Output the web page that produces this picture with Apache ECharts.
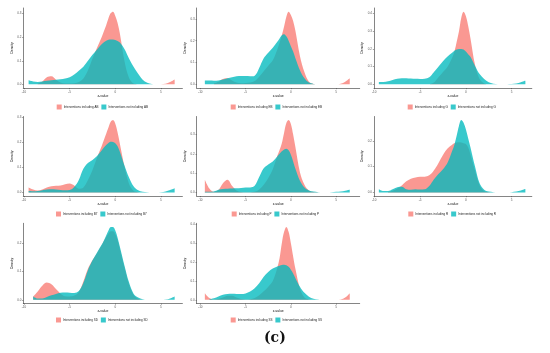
<!DOCTYPE html>
<html><head><meta charset="utf-8">
<script src="https://cdn.jsdelivr.net/npm/echarts@6/dist/echarts.min.js"></script>
<style>html,body{margin:0;padding:0;background:#fff}#c{width:550px;height:353px}</style>
</head><body><div id="c"></div>
<script>
// z-value sample points (shared by all panels)
const xs = [-9.5,-9,-8.5,-8,-7.5,-7,-6.5,-6,-5.5,-5,-4.5,-4,-3.5,-3,-2.5,-2,-1.5,-1.25,-1,-0.75,-0.5,-0.25,0,0.25,0.5,1,1.5,2,2.5,3,3.5,4,4.5,5,5.5,6,6.5];
const xTicks = [-10,-5,0,5];

// densities (null = outside that group's range)
const abIn  = [null,null,0.003,0.012,0.03,0.034,0.02,0.008,0.004,0.004,0.005,0.01,0.025,0.06,0.11,0.155,0.2,0.225,0.25,0.28,0.302,0.308,0.29,0.26,0.215,0.1,0.028,0.004,0.001,0,0,0,0,0.001,0.003,0.01,0.021];
const abOut = [0.017,0.012,0.01,0.012,0.015,0.017,0.02,0.022,0.025,0.03,0.042,0.058,0.075,0.1,0.125,0.148,0.17,0.178,0.185,0.189,0.19,0.19,0.188,0.184,0.177,0.15,0.11,0.075,0.045,0.02,0.007,0.002,0,null,null,null,null];
const ebIn  = [null,null,0.004,0.012,0.025,0.028,0.018,0.008,0.005,0.006,0.008,0.015,0.035,0.06,0.085,0.11,0.16,0.19,0.225,0.265,0.31,0.333,0.318,0.29,0.245,0.13,0.055,0.012,0.002,0,0,0,0,0,0.003,0.012,0.028];
const ebOut = [0.018,0.018,0.017,0.018,0.022,0.028,0.033,0.037,0.038,0.038,0.037,0.04,0.075,0.12,0.145,0.168,0.195,0.21,0.225,0.23,0.22,0.2,0.175,0.15,0.12,0.065,0.028,0.008,0.002,0,0,null,null,null,null,null,null];
const gIn   = [null,null,null,null,null,null,null,null,null,null,null,0,0.01,0.04,0.07,0.1,0.15,0.185,0.24,0.3,0.375,0.41,0.385,0.33,0.26,0.11,0.03,0.005,0,null,null,null,null,null,null,null,null];
const gOut  = [0.014,0.014,0.017,0.025,0.032,0.035,0.035,0.033,0.031,0.03,0.032,0.04,0.068,0.1,0.13,0.157,0.178,0.19,0.196,0.2,0.2,0.196,0.185,0.17,0.155,0.104,0.058,0.03,0.012,0.004,0.001,0,0.001,0.002,0.005,0.012,0.02];
const b7In  = [0.02,0.012,0.008,0.012,0.02,0.025,0.027,0.028,0.033,0.036,0.028,0.015,0.02,0.05,0.09,0.14,0.185,0.21,0.235,0.26,0.283,0.29,0.275,0.24,0.195,0.105,0.035,0.007,0.001,0,null,null,null,null,null,null,null];
const b7Out = [0.006,0.005,0.006,0.009,0.012,0.013,0.012,0.01,0.009,0.01,0.022,0.05,0.095,0.118,0.13,0.146,0.168,0.18,0.19,0.198,0.203,0.202,0.197,0.185,0.163,0.108,0.06,0.025,0.009,0.003,0.001,0,0,0.001,0.004,0.01,0.017];
const pIn   = [0.066,0.02,0.003,0.012,0.048,0.066,0.035,0.01,0.002,0.001,0.001,0.003,0.015,0.04,0.075,0.12,0.19,0.22,0.255,0.31,0.36,0.375,0.355,0.3,0.235,0.105,0.04,0.01,0.002,0,null,null,null,null,null,null,null];
const pOut  = [0.003,0.003,0.005,0.014,0.018,0.019,0.02,0.021,0.023,0.025,0.026,0.035,0.08,0.125,0.145,0.16,0.186,0.2,0.213,0.223,0.226,0.218,0.195,0.16,0.122,0.06,0.025,0.01,0.004,0.001,0,0,0.001,0.003,0.005,0.009,0.014];
const rIn   = [null,null,0.002,0.006,0.015,0.027,0.043,0.053,0.058,0.061,0.061,0.066,0.085,0.113,0.145,0.17,0.185,0.19,0.193,0.194,0.193,0.19,0.187,0.175,0.148,0.085,0.028,0.005,0.001,0,null,null,null,null,null,null,null];
const rOut  = [0.012,0.005,0.005,0.012,0.02,0.022,0.012,0.01,0.012,0.011,0.012,0.025,0.05,0.071,0.09,0.115,0.16,0.185,0.22,0.258,0.28,0.27,0.245,0.21,0.175,0.1,0.035,0.01,0.003,0.001,0,0,0,0.001,0.003,0.007,0.013];
const sdIn  = [null,0.012,0.03,0.05,0.061,0.055,0.038,0.022,0.013,0.012,0.015,0.028,0.065,0.11,0.14,0.165,0.192,0.208,0.222,0.235,0.243,0.243,0.232,0.212,0.18,0.115,0.055,0.018,0.004,0.001,null,null,null,null,null,null,null];
const sdOut = [null,0.012,0.005,0.005,0.01,0.016,0.021,0.025,0.026,0.025,0.024,0.031,0.06,0.105,0.14,0.168,0.195,0.21,0.228,0.245,0.258,0.258,0.245,0.22,0.188,0.122,0.062,0.022,0.008,0.002,0,0,0,0,0.001,0.005,0.012];
const ssIn  = [0.035,0.01,0.002,0.004,0.012,0.022,0.022,0.012,0.004,0.002,0.003,0.01,0.025,0.045,0.07,0.1,0.17,0.22,0.3,0.36,0.386,0.36,0.3,0.23,0.165,0.06,0.012,0.002,0,0,0,0,0,0,0.002,0.012,0.035];
const ssOut = [null,0.003,0.008,0.018,0.027,0.031,0.032,0.031,0.031,0.034,0.044,0.062,0.088,0.122,0.148,0.166,0.177,0.181,0.185,0.186,0.183,0.175,0.16,0.14,0.115,0.07,0.037,0.017,0.006,0.002,0,null,null,null,null,null,null];

const tags = ['AB','EB','G','B7','P','R','SD','SS'];
const inArrs  = [abIn, ebIn, gIn, b7In, pIn, rIn, sdIn, ssIn];
const outArrs = [abOut, ebOut, gOut, b7Out, pOut, rOut, sdOut, ssOut];

// layout
const cols = [
  {left:23.3, width:159.1, min:-10.08, max:7.35},
  {left:196.7, width:163.0, min:-10.4, max:7.6},
  {left:374.0, width:157.8, min:-10.03, max:7.2}
];
const rows = [{top:8, height:80, legTop:104.5},{top:116.5, height:79.5, legTop:211.5},{top:223.3, height:80.2, legTop:317.5}];
const legLefts = [56.7, 230.7, 407.7, 56, 231.7, 408.3, 56, 230.7];

const PINK = 'rgba(248,118,109,0.75)';
const TEAL = 'rgba(0,186,190,0.78)';
const toPairs = a => xs.map((x,i)=> a[i]==null ? null : [x, a[i]]).filter(d=>d);

const grids=[], xAxes=[], yAxes=[], series=[], legends=[];
tags.forEach((t,i)=>{
  const c = cols[i%3], r = rows[Math.floor(i/3)];
  const peak = Math.max(...inArrs[i].filter(v=>v!=null), ...outArrs[i].filter(v=>v!=null));
  const yMin = -0.05*peak, yMax = 1.05*peak;
  const yTicks = []; for (let v=0; v<=yMax+1e-9; v=Math.round((v+0.1)*10)/10) yTicks.push(v);
  grids.push({left:c.left, top:r.top, width:c.width, height:r.height, containLabel:false, outerBoundsMode:'none'});
  const axisCommon = {
    axisLine:{show:true, onZero:false, lineStyle:{color:'#333', width:0.6}},
    splitLine:{show:false}
  };
  xAxes.push(Object.assign({type:'value', gridIndex:i, min:c.min, max:c.max,
    name:'z-value', nameLocation:'middle', nameGap:6.3,
    nameTextStyle:{fontSize:3.4, color:'#111', fontFamily:'Liberation Sans'},
    axisTick:{show:true, length:1.2, customValues:xTicks, lineStyle:{color:'#444', width:0.5}},
    axisLabel:{customValues:xTicks, fontSize:3, color:'#555', margin:2.2, fontFamily:'Liberation Sans'}
  }, axisCommon));
  yAxes.push(Object.assign({type:'value', gridIndex:i, min:yMin, max:yMax,
    name:'Density', nameLocation:'middle', nameGap:8.5,
    nameTextStyle:{fontSize:3.4, color:'#111', fontFamily:'Liberation Sans'},
    axisTick:{show:true, length:1.2, customValues:yTicks, lineStyle:{color:'#444', width:0.5}},
    axisLabel:{customValues:yTicks, fontSize:3, color:'#555', margin:2, fontFamily:'Liberation Sans', formatter:v=>v.toFixed(1)}
  }, axisCommon));
  const nIn = 'Interventions including ' + t, nOut = 'Interventions not including ' + t;
  [[nIn, inArrs[i], PINK],[nOut, outArrs[i], TEAL]].forEach(([nm, arr, col])=>{
    series.push({type:'line', name:nm, xAxisIndex:i, yAxisIndex:i, data:toPairs(arr),
      smooth:0.35, symbol:'none', color:col, itemStyle:{color:col},
      lineStyle:{width:0}, areaStyle:{color:col, opacity:1, origin:0}, silent:true});
  });
  legends.push({left:legLefts[i], top:r.legTop, padding:0, itemWidth:5, itemHeight:5, itemGap:3,
    icon:'rect', selectedMode:false,
    textStyle:{fontSize:3, color:'#222', fontFamily:'Liberation Sans', padding:[0,0,0,-3]},
    data:[{name:nIn, itemStyle:{color:PINK}}, {name:nOut, itemStyle:{color:TEAL}}]});
});

const chart = echarts.init(document.getElementById('c'), null, {renderer:'canvas'});
chart.setOption({
  animation:false,
  backgroundColor:'#fff',
  grid:grids, xAxis:xAxes, yAxis:yAxes, series:series, legend:legends,
  graphic:[{type:'text', left:264, top:331, style:{text:'(c)', font:'bold 14px "DejaVu Serif", serif', fill:'#111'}}]
});
</script></body></html>
